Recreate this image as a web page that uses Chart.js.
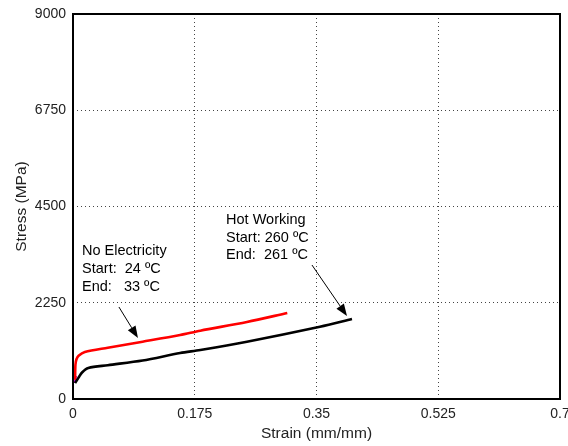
<!DOCTYPE html>
<html>
<head>
<meta charset="utf-8">
<script src="https://cdn.jsdelivr.net/npm/chart.js@4.4.1/dist/chart.umd.min.js"></script>
<style>
  html, body { margin: 0; padding: 0; background: #fff; }
  #wrap { width: 568px; height: 446px; }
</style>
</head>
<body>
<div id="wrap"><canvas id="c" width="568" height="446"></canvas></div>
<script>
// Stress-strain curves (strain in mm/mm, stress in MPa)
const noElecStrain = [0.003, 0.0035, 0.005, 0.008, 0.017, 0.05, 0.10, 0.154, 0.183, 0.25, 0.308];
const noElecStress = [450, 800, 930, 1010, 1100, 1200, 1340, 1496, 1597, 1800, 2010];

const hotStrain = [0.003, 0.008, 0.013, 0.022, 0.05, 0.10, 0.154, 0.183, 0.25, 0.355, 0.401];
const hotStress = [370, 500, 620, 725, 790, 900, 1075, 1145, 1340, 1690, 1870];

const initStrain = [0.0025, 0.0035, 0.0045];
const initStress = [380, 470, 540];

const xTicks = [0, 0.175, 0.35, 0.525, 0.7];
const yTicks = [0, 2250, 4500, 6750, 9000];

// Annotation text and arrow endpoints (data coordinates)
const noteNoElec = { x: 0.013, y: 3460, lines: ['No Electricity', 'Start:  24 ºC', 'End:   33 ºC'],
                     from: [0.066, 2151], to: [0.0934, 1426] };
const noteHot = { x: 0.22, y: 4190, lines: ['Hot Working', 'Start: 260 ºC', 'End:  261 ºC'],
                  from: [0.3435, 3132], to: [0.3938, 1940] };

const toPoints = (xs, ys) => xs.map((x, i) => ({ x, y: ys[i] }));

const FONT = "'Liberation Sans', Arial, sans-serif";

const annotations = {
  id: 'notes',
  afterDatasetsDraw(chart) {
    const { ctx, scales: { x, y } } = chart;
    ctx.save();
    ctx.fillStyle = '#000';
    ctx.font = '14.5px ' + FONT;
    ctx.textBaseline = 'middle';
    ctx.textAlign = 'left';
    [noteNoElec, noteHot].forEach(n => {
      const px = x.getPixelForValue(n.x);
      const py = y.getPixelForValue(n.y);
      n.lines.forEach((t, i) => ctx.fillText(t, px, py + i * 17.8));
      const x0 = x.getPixelForValue(n.from[0]), y0 = y.getPixelForValue(n.from[1]);
      const x1 = x.getPixelForValue(n.to[0]), y1 = y.getPixelForValue(n.to[1]);
      const ang = Math.atan2(y1 - y0, x1 - x0);
      const hl = 12, hw = 4.5;
      const bx = x1 - hl * Math.cos(ang), by = y1 - hl * Math.sin(ang);
      ctx.strokeStyle = '#000';
      ctx.lineWidth = 1;
      ctx.beginPath();
      ctx.moveTo(x0, y0);
      ctx.lineTo(bx, by);
      ctx.stroke();
      ctx.beginPath();
      ctx.moveTo(x1, y1);
      ctx.lineTo(bx + hw * Math.sin(ang), by - hw * Math.cos(ang));
      ctx.lineTo(bx - hw * Math.sin(ang), by + hw * Math.cos(ang));
      ctx.closePath();
      ctx.fill();
    });
    // plot frame
    const a = chart.chartArea;
    ctx.strokeStyle = '#000';
    ctx.lineWidth = 2;
    ctx.strokeRect(a.left, a.top, a.right - a.left, a.bottom - a.top);
    ctx.restore();
  }
};

new Chart(document.getElementById('c'), {
  type: 'line',
  data: {
    datasets: [
      { data: toPoints(noElecStrain, noElecStress), borderColor: '#ff0000', borderWidth: 2.6, pointRadius: 0, tension: 0.3, order: 2 },
      { data: toPoints(hotStrain, hotStress), borderColor: '#000000', borderWidth: 2.6, pointRadius: 0, tension: 0.3, order: 1 },
      { data: toPoints(initStrain, initStress), borderColor: '#c000c0', borderWidth: 2, pointRadius: 0, order: 3 }
    ]
  },
  options: {
    responsive: false,
    animation: false,
    events: [],
    layout: { padding: { top: 14, right: 0, left: 0, bottom: 0 } },
    plugins: { legend: { display: false }, tooltip: { enabled: false } },
    scales: {
      x: {
        type: 'linear', min: 0, max: 0.7,
        afterBuildTicks: s => { s.ticks = xTicks.map(v => ({ value: v })); },
        afterFit: s => { s.height = 47; s.paddingLeft = 0; s.paddingRight = 8; },
        ticks: { color: '#222', font: { family: FONT, size: 14 }, padding: 7, maxRotation: 0,
                 callback: v => String(v) },
        grid: { color: '#444', lineWidth: 1, drawTicks: false },
        border: { display: false, dash: [1, 3] },
        title: { display: true, text: 'Strain (mm/mm)', color: '#222', font: { family: FONT, size: 15.5 },
                 padding: { top: 0, bottom: 3 } }
      },
      y: {
        type: 'linear', min: 0, max: 9000,
        afterBuildTicks: s => { s.ticks = yTicks.map(v => ({ value: v })); },
        afterFit: s => { s.width = 73; s.paddingTop = 0; s.paddingBottom = 0; },
        ticks: { color: '#222', font: { family: FONT, size: 14 }, padding: 7,
                 callback: v => String(v) },
        grid: { color: '#444', lineWidth: 1, drawTicks: false },
        border: { display: false, dash: [1, 3] },
        title: { display: true, text: 'Stress (MPa)', color: '#222', font: { family: FONT, size: 15.5 },
                 padding: { top: 12, bottom: 0 } }
      }
    }
  },
  plugins: [annotations]
});
</script>
</body>
</html>
